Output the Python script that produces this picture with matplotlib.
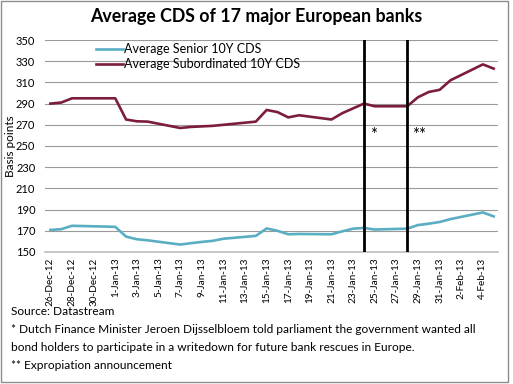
import matplotlib
matplotlib.use('Agg')
import matplotlib.pyplot as plt
import pandas as pd
from matplotlib.patches import Rectangle

plt.rcParams['font.family'] = ['Lato', 'DejaVu Sans']

# trading days plotted in the chart
dates = ['2012-12-26', '2012-12-27', '2012-12-28', '2012-12-31', '2013-01-01',
         '2013-01-02', '2013-01-03', '2013-01-04', '2013-01-07', '2013-01-08',
         '2013-01-09', '2013-01-10', '2013-01-11', '2013-01-14', '2013-01-15',
         '2013-01-16', '2013-01-17', '2013-01-18', '2013-01-21', '2013-01-22',
         '2013-01-23', '2013-01-24', '2013-01-25', '2013-01-28', '2013-01-29',
         '2013-01-30', '2013-01-31', '2013-02-01', '2013-02-04', '2013-02-05']

senior = [170.8, 171.5, 174.7, 174.0, 173.7, 164.5, 162.0, 161.0, 157.0, 158.3,
          159.5, 160.5, 162.5, 165.2, 172.2, 170.0, 166.7, 167.0, 166.7, 169.5,
          172.0, 172.7, 171.2, 172.0, 175.4, 176.7, 178.3, 181.0, 187.3, 183.6]

subordinated = [290.0, 291.0, 295.0, 295.0, 295.0, 275.0, 273.3, 273.0, 267.0, 268.0,
                268.5, 269.0, 270.0, 273.0, 284.0, 282.0, 277.0, 279.0, 275.0, 281.0,
                285.5, 290.0, 287.5, 287.5, 296.0, 301.0, 303.0, 312.0, 327.0, 323.0]

event_dates = ['2013-01-24', '2013-01-28']
event_marks = ['*', '**']

series_names = ['Average Senior 10Y CDS', 'Average Subordinated 10Y CDS']

x = pd.to_datetime(dates)
ev = pd.to_datetime(event_dates)

fig = plt.figure(figsize=(5.13, 3.84), dpi=100)
ax = fig.add_axes([0.0877, 0.3438, 0.8831, 0.5520])

ax.plot(x, senior, color='#5aaec3', linewidth=1.9, label=series_names[0])
ax.plot(x, subordinated, color='#7c1d3c', linewidth=1.9, label=series_names[1])

for d in ev:
    ax.axvline(d, color='black', linewidth=2.0, zorder=3)
ax.text(ev[0] + pd.Timedelta(days=0.9), 260, event_marks[0], ha='center', va='center', fontsize=12)
ax.text(ev[1] + pd.Timedelta(days=1.1), 260, event_marks[1], ha='center', va='center', fontsize=12)

ax.set_ylim(150, 350)
ax.set_yticks(range(150, 351, 20))
ax.set_xlim(x[0] - pd.Timedelta(days=0.5), x[-1] + pd.Timedelta(days=0.4))
ticks = pd.date_range('2012-12-26', '2013-02-04', freq='2D')
ax.set_xticks(ticks)
ax.set_xticklabels([f'{t.day}-{t.strftime("%b")}-{t.strftime("%y")}' for t in ticks],
                   rotation=90, fontsize=7.2)
ax.tick_params(axis='y', length=0, pad=7, labelsize=8)
ax.tick_params(axis='x', length=0, pad=4)

ax.grid(axis='y', color='#9a9a9a', linewidth=0.8)
ax.set_axisbelow(True)
for s in ['top', 'right', 'left']:
    ax.spines[s].set_visible(False)
ax.spines['bottom'].set_color('#bdbdbd')
ax.spines['bottom'].set_linewidth(1.2)

ax.set_ylabel('Basis points', fontsize=8.5)
ax.yaxis.set_label_coords(-0.064, 0.5)

ax.legend(loc='upper left', bbox_to_anchor=(0.112, 0.985), frameon=False, fontsize=9,
          handlelength=2.2, handletextpad=0.1, borderaxespad=0, labelspacing=0.25,
          borderpad=0)

fig.text(0.5, 0.956, 'Average CDS of 17 major European banks', ha='center', va='center',
         fontsize=12.8, fontweight='bold')

notes = ['Source: Datastream',
         '* Dutch Finance Minister Jeroen Dijsselbloem told parliament the government wanted all',
         'bond holders to participate in a writedown for future bank rescues in Europe.',
         '** Expropiation announcement']
for i, line in enumerate(notes):
    fig.text(0.0214, 0.190 - i * 0.047, line, ha='left', va='center', fontsize=8.6)

fig.patches.append(Rectangle((0.002, 0.005), 0.988, 0.992, transform=fig.transFigure,
                             fill=False, edgecolor='#8c8c8c', linewidth=1.0))

fig.savefig('out.png', dpi=100)
